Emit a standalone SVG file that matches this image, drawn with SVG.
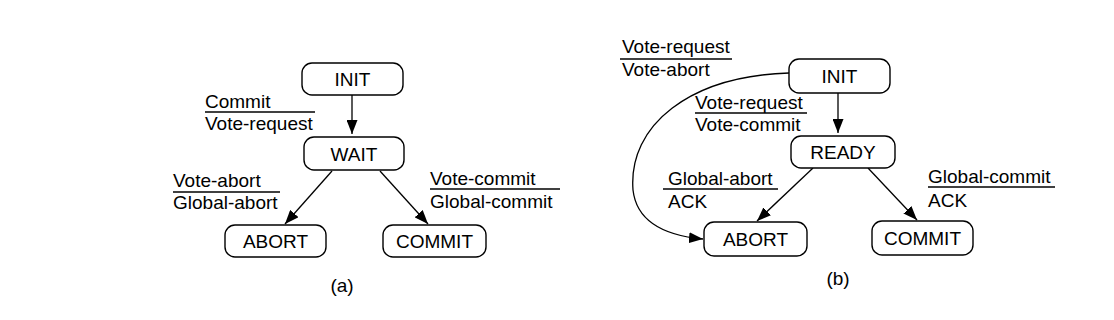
<svg xmlns="http://www.w3.org/2000/svg" width="1114" height="320" viewBox="0 0 1114 320">
<style>
.box{fill:#fff;stroke:#000;stroke-width:1.4}
.t{font-family:"Liberation Sans",Arial,sans-serif;font-size:19px;fill:#000}
.c{text-anchor:middle}
.e{fill:none;stroke:#000;stroke-width:1.3}
.u{stroke:#000;stroke-width:1.3}
</style>
<defs>
<marker id="ah" markerUnits="userSpaceOnUse" markerWidth="14" markerHeight="11" refX="14" refY="5.5" orient="auto">
<path d="M0,0 L14,5.5 L0,11 z" fill="#000"/>
</marker>
</defs>
<rect width="1114" height="320" fill="#fff"/>
<g id="connectors">
<path class="e" d="M352,95 L352,134" marker-end="url(#ah)"/>
<path class="e" d="M332,171 L285,224" marker-end="url(#ah)"/>
<path class="e" d="M380,171 L428,224" marker-end="url(#ah)"/>
<path class="e" d="M838,93 L838,133" marker-end="url(#ah)"/>
<path class="e" d="M813,168 L757,221" marker-end="url(#ah)"/>
<path class="e" d="M868,168 L917,220" marker-end="url(#ah)"/>
<path class="e" d="M789,73 C690,76 628,125 633,190 C637,225 670,236 703,239" marker-end="url(#ah)"/>
</g>
<g id="a_init"><rect class="box" x="302" y="63" width="101" height="32" rx="10"/><text class="t c" x="352.5" y="86">INIT</text></g>
<g id="a_wait"><rect class="box" x="304" y="137" width="100" height="33" rx="10"/><text class="t c" x="354" y="161">WAIT</text></g>
<g id="a_abort"><rect class="box" x="225" y="225" width="101" height="32" rx="10"/><text class="t c" x="275.5" y="248">ABORT</text></g>
<g id="a_commit"><rect class="box" x="383" y="225" width="103" height="32" rx="10"/><text class="t c" x="434.5" y="248">COMMIT</text></g>
<g id="b_init"><rect class="box" x="789" y="59" width="101" height="34" rx="10"/><text class="t c" x="839.5" y="83">INIT</text></g>
<g id="b_ready"><rect class="box" x="791" y="136" width="104" height="32" rx="10"/><text class="t c" x="843" y="159">READY</text></g>
<g id="b_abort"><rect class="box" x="704" y="222" width="103" height="34" rx="10"/><text class="t c" x="755.5" y="246">ABORT</text></g>
<g id="b_commit"><rect class="box" x="872" y="221" width="101" height="34" rx="10"/><text class="t c" x="922.5" y="245">COMMIT</text></g>
<g id="labels">
<text class="t" x="205" y="108">Commit</text><line class="u" x1="205" y1="112" x2="315" y2="112"/><text class="t" x="205" y="130">Vote-request</text>
<text class="t" x="173" y="187">Vote-abort</text><line class="u" x1="173" y1="192" x2="280" y2="192"/><text class="t" x="173" y="209">Global-abort</text>
<text class="t" x="430" y="185">Vote-commit</text><line class="u" x1="430" y1="189" x2="560" y2="189"/><text class="t" x="430" y="208">Global-commit</text>
<text class="t c" x="342" y="292">(a)</text>
<text class="t" x="622" y="53">Vote-request</text><line class="u" x1="620" y1="59" x2="732" y2="59"/><text class="t" x="622" y="76">Vote-abort</text>
<text class="t" x="695" y="109">Vote-request</text><line class="u" x1="695" y1="113" x2="807" y2="113"/><text class="t" x="695" y="131">Vote-commit</text>
<text class="t" x="668" y="185">Global-abort</text><line class="u" x1="663" y1="189" x2="778" y2="189"/><text class="t" x="668" y="208">ACK</text>
<text class="t" x="928" y="183">Global-commit</text><line class="u" x1="928" y1="187" x2="1055" y2="187"/><text class="t" x="928" y="207">ACK</text>
<text class="t c" x="838" y="285">(b)</text>
</g>
</svg>
